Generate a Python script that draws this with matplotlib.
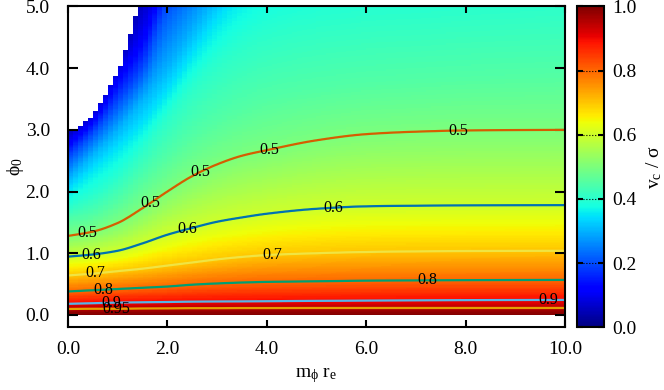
import numpy as np
import matplotlib
matplotlib.use('Agg')
import matplotlib.pyplot as plt

plt.rcParams['font.family'] = ['Liberation Serif', 'DejaVu Serif']
plt.rcParams['mathtext.fontset'] = 'custom'
plt.rcParams['mathtext.rm'] = 'Liberation Serif'
plt.rcParams['mathtext.it'] = 'Liberation Serif'

x_knots = [0.0, 0.5, 1.0, 1.5, 2.0, 2.5, 3.0, 3.5, 4.0, 5.0, 6.0, 7.0, 8.0, 10.0]
# v_c / sigma of each iso-line, and its phi_0 height at x_knots
iso_vals = [1.0, 0.95, 0.9, 0.8, 0.7, 0.6, 0.5, 0.45, 0.4, 0.35, 0.3, 0.2, 0.1, 0.05]
iso_y = [
    [0.0] * 14,
    [0.097, 0.100, 0.100, 0.105, 0.107, 0.110, 0.110, 0.112, 0.112, 0.113, 0.113, 0.113, 0.113, 0.113],
    [0.18, 0.19, 0.20, 0.205, 0.21, 0.215, 0.218, 0.22, 0.222, 0.228, 0.232, 0.236, 0.24, 0.243],
    [0.38, 0.40, 0.42, 0.44, 0.46, 0.49, 0.51, 0.525, 0.535, 0.545, 0.555, 0.56, 0.563, 0.567],
    [0.64, 0.67, 0.71, 0.75, 0.80, 0.85, 0.90, 0.94, 0.97, 1.00, 1.02, 1.03, 1.035, 1.04],
    [0.945, 0.98, 1.04, 1.16, 1.30, 1.41, 1.51, 1.58, 1.64, 1.72, 1.76, 1.77, 1.775, 1.78],
    [1.28, 1.35, 1.49, 1.73, 2.00, 2.25, 2.44, 2.58, 2.67, 2.83, 2.93, 2.97, 2.99, 3.00],
    [1.52, 1.62, 1.85, 2.20, 2.55, 2.90, 3.15, 3.35, 3.50, 3.65, 3.75, 3.80, 3.85, 3.90],
    [1.76, 1.95, 2.25, 2.70, 3.20, 3.70, 4.10, 4.40, 4.60, 4.80, 4.90, 4.95, 5.00, 5.10],
    [2.00, 2.35, 2.70, 3.10, 3.60, 4.20, 4.75, 5.20, 5.50, 5.80, 6.00, 6.10, 6.20, 6.30],
    [2.20, 2.60, 3.00, 3.50, 4.00, 4.60, 5.20, 5.70, 6.10, 6.50, 6.70, 6.80, 6.90, 7.00],
    [2.55, 2.95, 3.45, 4.00, 5.00, 5.60, 6.20, 6.60, 7.00, 7.40, 7.60, 7.70, 7.80, 7.90],
    [2.82, 3.20, 3.90, 4.60, 5.60, 6.20, 6.80, 7.20, 7.50, 7.90, 8.10, 8.20, 8.30, 8.40],
    [2.98, 3.32, 4.07, 5.20, 6.00, 6.60, 7.10, 7.50, 7.80, 8.20, 8.40, 8.50, 8.60, 8.70],
]

# edge of the region with no solution (white, top left)
white_x = [0.0, 0.1, 0.2, 0.3, 0.4, 0.5, 0.6, 0.7, 0.8, 0.9, 1.0, 1.1, 1.2, 1.3, 1.4]
white_y = [2.98, 3.03, 3.07, 3.13, 3.20, 3.30, 3.43, 3.56, 3.73, 3.88, 4.05, 4.30, 4.55, 4.84, 5.0]

levels = [0.5, 0.6, 0.7, 0.8, 0.9, 0.95]
level_colors = ['#d55e00', '#0072b2', '#f0e442', '#009e73', '#56b4e9', '#e69f00']
label_pos = [(0.38, 1.37), (1.66, 1.81), (2.69, 2.27), (4.05, 2.71), (7.85, 3.03),
             (0.46, 0.99), (2.39, 1.42), (5.33, 1.77),
             (0.54, 0.69), (4.10, 1.03),
             (0.70, 0.43), (7.23, 0.60),
             (0.88, 0.23), (9.66, 0.28),
             (0.98, 0.12)]


def pchip(xk, yk, x):
    # monotone cubic through the read-off points, so the lines are not kinked
    xk = np.asarray(xk, float)
    yk = np.asarray(yk, float)
    h = np.diff(xk)
    d = np.diff(yk) / h
    m = np.zeros_like(yk)
    for k in range(1, len(xk) - 1):
        if d[k - 1] * d[k] > 0:
            w1 = 2 * h[k] + h[k - 1]
            w2 = h[k] + 2 * h[k - 1]
            m[k] = (w1 + w2) / (w1 / d[k - 1] + w2 / d[k])
    m[0] = d[0]
    m[-1] = d[-1]
    i = np.clip(np.searchsorted(xk, x) - 1, 0, len(xk) - 2)
    t = (x - xk[i]) / h[i]
    h00 = 2 * t**3 - 3 * t**2 + 1
    h10 = t**3 - 2 * t**2 + t
    h01 = -2 * t**3 + 3 * t**2
    h11 = t**3 - t**2
    return h00 * yk[i] + h10 * h[i] * m[i] + h01 * yk[i + 1] + h11 * h[i] * m[i + 1]


def vfield(xv, yv):
    h = np.array([pchip(x_knots, row, xv) for row in iso_y])
    h = np.maximum.accumulate(h)
    return np.interp(yv, h, iso_vals)


def grid(xc, yc):
    return np.array([vfield(xx, yc) for xx in xc]).T


# image on 0.1 wide columns
xe = np.linspace(0, 10, 101)
ye = np.linspace(0, 5, 251)
xc = xe[:-1] + 0.05
yc = 0.5 * (ye[1:] + ye[:-1])
Z = grid(xc, yc)
yb = np.interp(xe[:-1], white_x, white_y, right=99.0)
Z = np.ma.masked_where(yc[:, None] > yb[None, :], Z)

# finer grid for the contour lines
xf = np.linspace(0, 10, 401)
yf = np.linspace(0, 5, 501)
Zf = grid(xf, yf)

fig = plt.figure(figsize=(6.64, 3.90), dpi=100)
ax = fig.add_axes([0.1024, 0.1608, 0.7485, 0.8226])
cax = fig.add_axes([0.869, 0.1608, 0.0407, 0.8226])

im = ax.pcolormesh(xe, ye, Z, cmap='jet', vmin=0, vmax=1, shading='flat')
cs = ax.contour(xf, yf, Zf, levels=levels, colors=level_colors, linewidths=1.6)
cl = ax.clabel(cs, manual=label_pos, inline=False, fontsize=11.5, colors='k', fmt='%g')
for t in cl:
    t.set_rotation(0)

ax.set_xlim(0, 10)
ax.set_ylim(-0.2, 5.0)
ax.set_xticks(np.arange(0, 10.1, 2))
ax.set_yticks(np.arange(0, 5.1, 1))
ax.xaxis.set_major_formatter(matplotlib.ticker.FormatStrFormatter('%.1f'))
ax.yaxis.set_major_formatter(matplotlib.ticker.FormatStrFormatter('%.1f'))
ax.tick_params(axis='x', direction='in', top=True, length=4.7, width=1.5, pad=10, labelsize=14)
ax.tick_params(axis='y', direction='in', right=True, length=7, width=1.5, pad=13, labelsize=14)
for s in ax.spines.values():
    s.set_linewidth(1.5)

ax.set_xlabel(r'm$_\phi$ r$_\mathrm{e}$', fontsize=14)
ax.xaxis.set_label_coords(0.5, -0.12)
ax.set_ylabel(r'$\phi_0$', fontsize=14)
ax.yaxis.set_label_coords(-0.085, 0.5)

cb = fig.colorbar(im, cax=cax)
cb.set_ticks([0, 0.2, 0.4, 0.6, 0.8, 1.0])
cb.ax.yaxis.set_major_formatter(matplotlib.ticker.FormatStrFormatter('%.1f'))
cax.yaxis.set_ticks_position('both')
cax.tick_params(direction='in', length=4, width=1.5, pad=6, labelsize=14)
for v in [0.2, 0.4, 0.6, 0.8]:
    cax.axhline(v, color='k', ls=':', lw=0.8)
cb.outline.set_linewidth(1.5)
cb.set_label(r'v$_\mathrm{c}$ / $\sigma$', fontsize=14)
cax.yaxis.set_label_coords(2.5, 0.5)

fig.savefig('out.png', dpi=100)
